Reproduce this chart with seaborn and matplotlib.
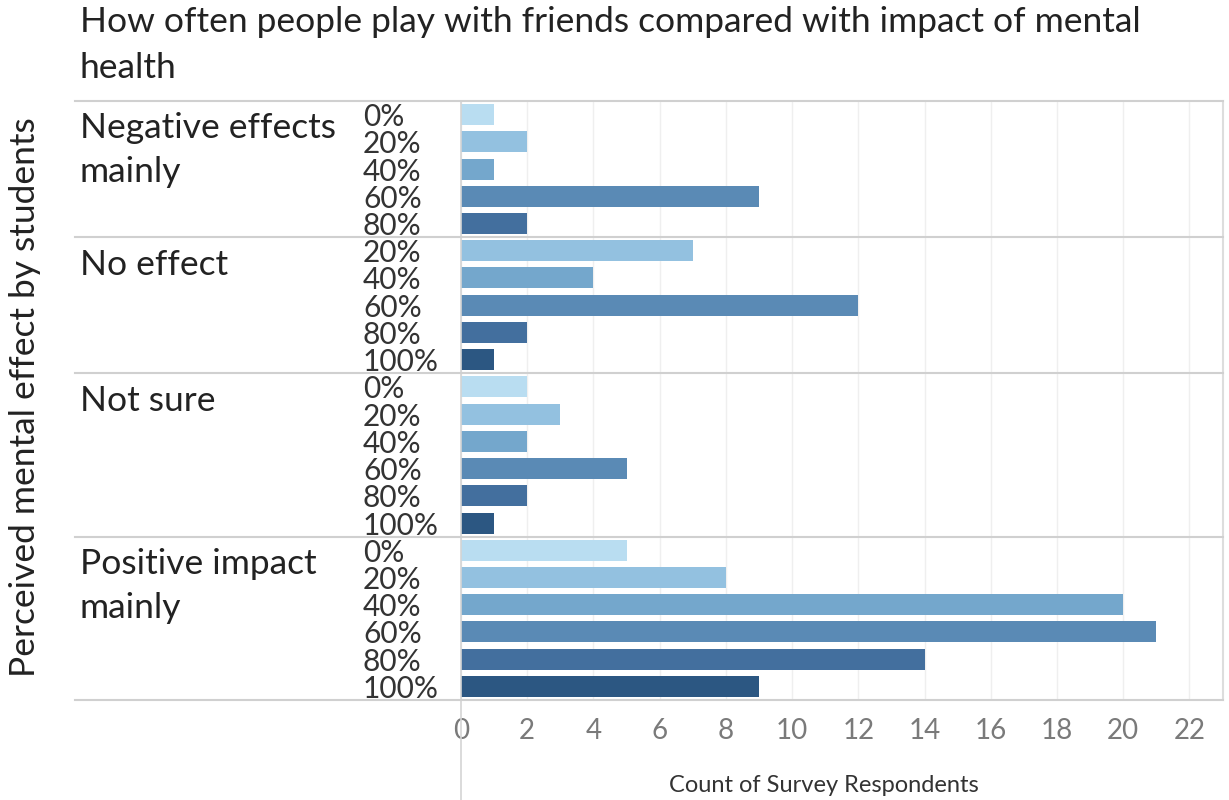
import matplotlib
matplotlib.use("Agg")
import matplotlib.pyplot as plt
import matplotlib.transforms as mtransforms
import seaborn as sns
import pandas as pd

# ---- data ----
groups = ["Negative effects mainly", "No effect", "Not sure", "Positive impact mainly"]
group_labels = ["Negative effects\nmainly", "No effect", "Not sure", "Positive impact\nmainly"]
neg_freq = ["0%", "20%", "40%", "60%", "80%"]
neg_vals = [1, 2, 1, 9, 2]
noeff_freq = ["20%", "40%", "60%", "80%", "100%"]
noeff_vals = [7, 4, 12, 2, 1]
notsure_freq = ["0%", "20%", "40%", "60%", "80%", "100%"]
notsure_vals = [2, 3, 2, 5, 2, 1]
pos_freq = ["0%", "20%", "40%", "60%", "80%", "100%"]
pos_vals = [5, 8, 20, 21, 14, 9]
freq_levels = ["0%", "20%", "40%", "60%", "80%", "100%"]
colors = ["#b9ddf1", "#93c1e0", "#74a7cc", "#5a8ab5", "#436f9e", "#2c5782"]
x_ticks = list(range(0, 23, 2))

title = "How often people play with friends compared with impact of mental\nhealth"
y_title = "Perceived mental effect by students"
x_title = "Count of Survey Respondents"

rows = []
for g, fr, vals in zip(groups, [neg_freq, noeff_freq, notsure_freq, pos_freq],
                       [neg_vals, noeff_vals, notsure_vals, pos_vals]):
    for f, v in zip(fr, vals):
        rows.append({"group": g, "freq": f, "count": v, "row": g + "|" + f})
df = pd.DataFrame(rows)

# ---- figure ----
W, H = 1229, 800
fig = plt.figure(figsize=(W / 100, H / 100), dpi=100)
left_px, right_px, top_px, bot_px = 461, 1222.5, 101, 700
ax = fig.add_axes([left_px / W, 1 - bot_px / H, (right_px - left_px) / W, (bot_px - top_px) / H])

font = "Lato"
plt.rcParams["font.family"] = [font, "DejaVu Sans"]

palette = dict(zip(freq_levels, colors))
sns.barplot(data=df, y="row", x="count", hue="freq", hue_order=freq_levels,
            palette=palette, dodge=False, width=0.77, orient="h", legend=False,
            saturation=1, ax=ax, edgecolor="none")

n = len(df)
ax.set_ylim(n - 0.5, -0.5)
ax.set_xlim(0, 23)
ax.set_xticks(x_ticks)
ax.set_xticklabels([str(t) for t in x_ticks], fontsize=20, color="#7a7a7a", fontfamily=font)
ax.tick_params(axis="x", length=0, pad=13)
ax.set_yticks(range(n))
ax.set_yticklabels(df["freq"].tolist(), fontsize=21.5, color="#333333", fontfamily=font)
ax.tick_params(axis="y", length=0, pad=(left_px - 363) * 72 / 100)
for lbl in ax.get_yticklabels():
    lbl.set_ha("left")

ax.set_ylabel("")
ax.set_xlabel(x_title, fontsize=17, color="#333333", fontfamily=font)
ax.xaxis.set_label_coords((824 - left_px) / (right_px - left_px), -(785 - bot_px) / (bot_px - top_px))
ax.xaxis.label.set_va("center")

for s in ax.spines.values():
    s.set_visible(False)
ax.grid(axis="x", color="#efefef", linewidth=1)
ax.set_axisbelow(True)

# right border
ax.axvline(23, color="#dddddd", linewidth=1.5, clip_on=False)
# zero line extending down
ax.axvline(0, ymin=-(H - bot_px) / (bot_px - top_px), ymax=1, color="#d4d4d4",
           linewidth=1.2, clip_on=False, zorder=5)

# group separators
xmin = -(left_px - 75) / (right_px - left_px)
start = 0
boundaries = [-0.5]
for g in groups:
    cnt = int((df["group"] == g).sum())
    start += cnt
    boundaries.append(start - 0.5)
for b in boundaries:
    ax.axhline(b, xmin=xmin, xmax=1, color="#d0d0d0", linewidth=1.5, clip_on=False, zorder=5)

# group labels
trans = mtransforms.blended_transform_factory(fig.transFigure, ax.transData)
for lab, b in zip(group_labels, boundaries[:-1]):
    ax.text(80 / W, b + 0.42, lab, transform=trans, ha="left", va="top",
            fontsize=25.5, color="#222222", linespacing=1.45, fontfamily=font)

# y axis title
fig.text(25 / W, 1 - 397 / H, y_title, rotation=90, ha="center", va="center",
         fontsize=25.5, color="#222222", fontfamily=font)

# title
fig.text(80 / W, 1 - 6 / H, title, ha="left", va="top", fontsize=25.5,
         color="#222222", linespacing=1.52, fontfamily=font)

fig.savefig("out.png", dpi=100)
